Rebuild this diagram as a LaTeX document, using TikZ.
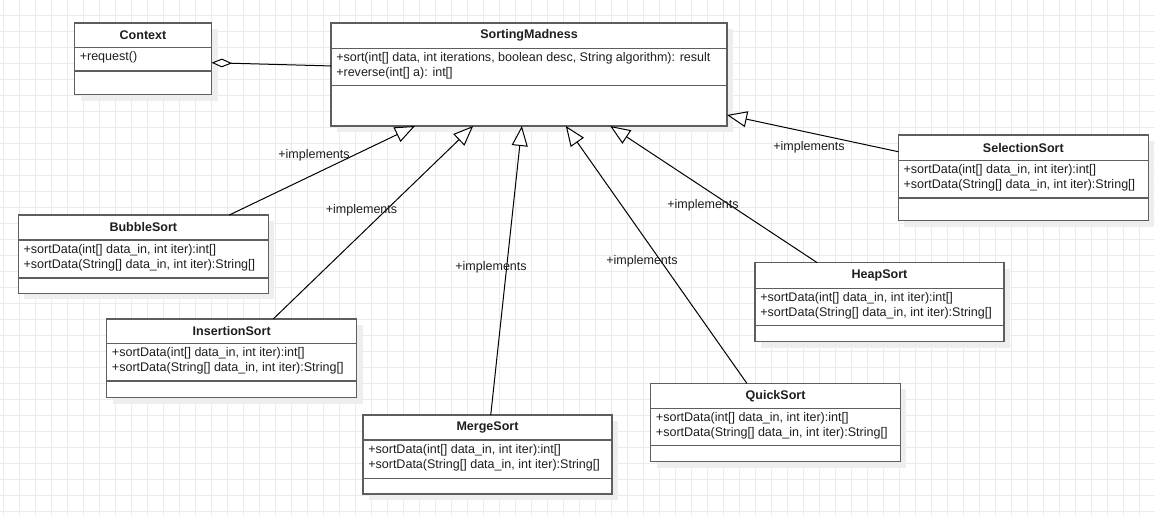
\documentclass[tikz,border=0pt]{standalone}
\usepackage{fontspec}
\setmainfont{Liberation Sans}
\usetikzlibrary{arrows.meta,calc}

\definecolor{gridcol}{RGB}{235,235,235}
\definecolor{shadowcol}{RGB}{238,238,238}
\definecolor{boxline}{RGB}{94,94,94}
\definecolor{inkcol}{RGB}{30,30,30}

\tikzset{
  classbox/.style={draw=boxline, line width=1.1pt, fill=white, inner sep=0pt, outer sep=0pt},
  classline/.style={draw=boxline, line width=1.1pt},
  classtitle/.style={inner sep=0pt, text=inkcol, font=\fontsize{9.4}{11}\selectfont\bfseries},
  member/.style={anchor=west, inner sep=0pt, text=inkcol, font=\fontsize{9.4}{11}\selectfont},
  lbl/.style={inner sep=0pt, text=inkcol, font=\fontsize{9.4}{11}\selectfont},
  implarrow/.style={draw=black, line width=0.75pt,
    -{Triangle[fill=white, length=15pt, width=12pt, line join=miter]}},
  aggr/.style={draw=black, line width=0.75pt,
    {Diamond[fill=white, length=15.5pt, width=6.5pt]}-},
}

% #1 name, #2 left, #3 top, #4 width, #5 height,
% #6 title separator y, #7 member separator y, #8 title, #9 member lines
\newcommand\umlclass[9]{%
  \fill[shadowcol] ({#2+6},{#3+6}) rectangle ({#2+#4+6},{#3+#5+6});
  \node[classbox, minimum width={#4*0.75pt}, minimum height={#5*0.75pt}]
    (#1) at ({#2+#4/2},{#3+#5/2}) {};
  \node[classtitle] (#1-title) at ({#2+#4/2},{(#3+#6)/2}) {#8};
  \draw[classline] (#2,#6) -- ({#2+#4},#6);
  \draw[classline] (#2,#7) -- ({#2+#4},#7);
  \foreach \m [count=\i] in {#9} {
    \node[member] (#1-m\i) at ({#2+5},{#6+10+15*(\i-1)}) {\m};
  }%
}

\begin{document}
\begin{tikzpicture}[x=0.75pt, y=-0.75pt]
  % canvas and background grid
  \fill[white] (0,0) rectangle (1155,515);
  \useasboundingbox (0,0) rectangle (1155,515);
  \foreach \gx in {3,19,...,1155} \draw[gridcol, line width=0.75pt] (\gx,0) -- (\gx,515);
  \foreach \gy in {15,31,...,515} \draw[gridcol, line width=0.75pt] (0,\gy) -- (1155,\gy);

  % classes
  \umlclass{context}{74.5}{23}{137}{71.5}{47.7}{71}{Context}{{+request()}}
  \umlclass{sm}{331}{23}{396}{103}{48.3}{85.7}{SortingMadness}%
    {{+sort(int[] data, int iterations, boolean desc, String algorithm): result},{+reverse(int[] a): int[]}}
  \umlclass{bubble}{18.3}{215}{250}{78.3}{240}{278}{BubbleSort}%
    {{+sortData(int[] data\_in, int iter):int[]},{+sortData(String[] data\_in, int iter):String[]}}
  \umlclass{insertion}{106.7}{319}{250}{78.7}{343.3}{381}{InsertionSort}%
    {{+sortData(int[] data\_in, int iter):int[]},{+sortData(String[] data\_in, int iter):String[]}}
  \umlclass{merge}{363}{415}{249}{79}{440}{478.3}{MergeSort}%
    {{+sortData(int[] data\_in, int iter):int[]},{+sortData(String[] data\_in, int iter):String[]}}
  \umlclass{quick}{650.7}{383.3}{249.7}{78.4}{408.3}{445.7}{QuickSort}%
    {{+sortData(int[] data\_in, int iter):int[]},{+sortData(String[] data\_in, int iter):String[]}}
  \umlclass{heap}{755}{262.7}{249}{79}{288.3}{325.7}{HeapSort}%
    {{+sortData(int[] data\_in, int iter):int[]},{+sortData(String[] data\_in, int iter):String[]}}
  \umlclass{selection}{898.3}{135}{250}{85.7}{160.7}{198}{SelectionSort}%
    {{+sortData(int[] data\_in, int iter):int[]},{+sortData(String[] data\_in, int iter):String[]}}

  % aggregation
  \draw[aggr] ($(context.north east)!0.555!(context.south east)$) -- ($(sm.north west)!0.417!(sm.south west)$);

  % realizations
  \draw[implarrow] ($(bubble.north west)!0.844!(bubble.north east)$) -- ($(sm.south west)!0.212!(sm.south east)$);
  \draw[implarrow] ($(insertion.north west)!0.666!(insertion.north east)$) -- ($(sm.south west)!0.359!(sm.south east)$);
  \draw[implarrow] ($(merge.north west)!0.513!(merge.north east)$) -- ($(sm.south west)!0.482!(sm.south east)$);
  \draw[implarrow] ($(quick.north west)!0.385!(quick.north east)$) -- ($(sm.south west)!0.593!(sm.south east)$);
  \draw[implarrow] ($(heap.north west)!0.25!(heap.north east)$) -- ($(sm.south west)!0.705!(sm.south east)$);
  \draw[implarrow] ($(selection.north west)!0.195!(selection.south west)$) -- ($(sm.north east)!0.893!(sm.south east)$);

  % connector labels
  \node[lbl] (impl-bubble) at (314,155) {+implements};
  \node[lbl] (impl-insertion) at (361.5,210) {+implements};
  \node[lbl] (impl-merge) at (491,267) {+implements};
  \node[lbl] (impl-quick) at (642,261) {+implements};
  \node[lbl] (impl-heap) at (703,205) {+implements};
  \node[lbl] (impl-selection) at (809,147) {+implements};
\end{tikzpicture}
\end{document}
